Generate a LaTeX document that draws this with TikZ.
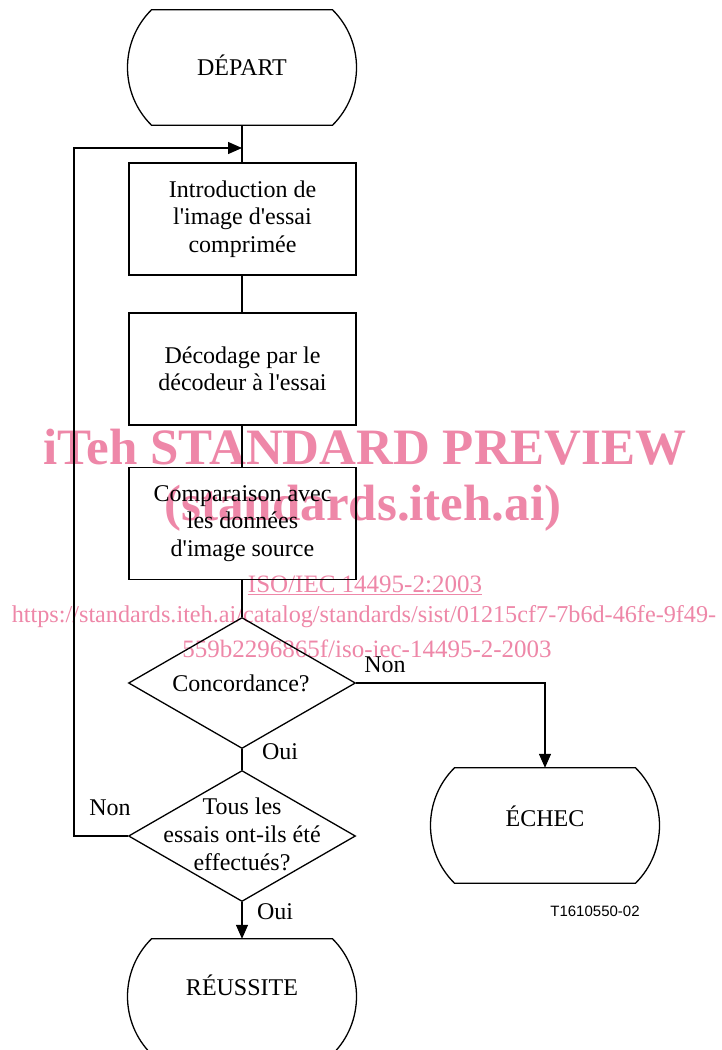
\documentclass[tikz,border=0pt]{standalone}
\usepackage{fontspec}
\setmainfont{Liberation Serif}
\newfontfamily\arialfont{Liberation Sans}
\usetikzlibrary{shapes.geometric,arrows.meta}
\definecolor{wm}{RGB}{238,135,168}
\newcommand\termshape[1]{%
  \draw[line] ([xshift=-90.5pt]#1.north) -- ([xshift=90.5pt]#1.north)
    .. controls ([xshift=122.5pt,yshift=-31.6pt]#1.north) and ([xshift=122.5pt,yshift=31.6pt]#1.south) .. ([xshift=90.5pt]#1.south)
    -- ([xshift=-90.5pt]#1.south)
    .. controls ([xshift=-122.5pt,yshift=31.6pt]#1.south) and ([xshift=-122.5pt,yshift=-31.6pt]#1.north) .. ([xshift=-90.5pt]#1.north)
    -- cycle;}
\begin{document}
\begin{tikzpicture}[x=1pt,y=-1pt,
  line/.style={line width=1.3pt, line join=miter},
  arr/.style={line width=1.3pt, -{Triangle[length=14pt,width=12pt]}},
  box/.style={draw, line width=1.3pt, minimum width=227pt, minimum height=112pt, inner sep=0pt, align=center, font=\fontsize{24}{27.5}\selectfont},
  term/.style={minimum width=229pt, minimum height=115pt, inner sep=0pt, text height=15.9pt, text depth=0pt, font=\fontsize{24}{27.5}\selectfont},
  dec/.style={diamond, draw, line width=1.3pt, minimum width=227pt, minimum height=131pt, inner sep=0pt},
  dtext/.style={align=center, inner sep=0pt, font=\fontsize{24}{28}\selectfont},
  lab/.style={inner sep=0pt, font=\fontsize{24}{27}\selectfont},
  code/.style={inner sep=0pt, font=\arialfont\fontsize{15}{18}\selectfont},
  wmbig/.style={inner sep=0pt, text=wm, font=\fontsize{51}{55}\selectfont\bfseries},
  wmsmall/.style={inner sep=0pt, text=wm, font=\fontsize{25}{30}\selectfont},
  wmurl/.style={inner sep=0pt, text=wm, font=\fontsize{24.2}{30}\selectfont}
]
\useasboundingbox (0,0) rectangle (721,1050);
\fill[white] (0,0) rectangle (721,1050);
\clip (0,0) rectangle (721,1050);

% watermark
\node[wmbig] (wm1) at (365,447) {iTeh STANDARD PREVIEW};
\node[wmbig] (wm2) at (363,508) {(standards.iteh.ai)};
\node[wmsmall] (wm3) at (365,585) {\underline{ISO/IEC 14495-2:2003}};
\node[wmurl] (wm4) at (364,617) {https://standards.iteh.ai/catalog/standards/sist/01215cf7-7b6d-46fe-9f49-};
\node[wmsmall] (wm5) at (367,649) {559b2296865f/iso-iec-14495-2-2003};

% terminals
\node[term] (start) at (242,67.5) {DÉPART};
\termshape{start}
\node[term] (fail) at (545,825.5) {\raisebox{7pt}{ÉCHEC}};
\termshape{fail}
\node[term] (success) at (242,996.5) {\raisebox{8.5pt}{RÉUSSITE}};
\termshape{success}

% process boxes
\node[box] (b1) at (242.5,219) {Introduction de\\l\textquotesingle image d\textquotesingle essai\\comprimée};
\node[box] (b2) at (242.5,369) {Décodage par le\\décodeur à l\textquotesingle essai};
\node[box] (b3) at (242.5,523.5) {Comparaison avec\\les données\\d\textquotesingle image source};

% decisions
\node[dec] (d1) at (242,683) {};
\node[dtext] (d1t) at (241,683) {Concordance?};
\node[dec] (d2) at (242,836) {};
\node[dtext] (d2t) at (242,834) {Tous les\\essais ont-ils été\\effectués?};

% labels
\node[lab] (non1) at (385,665) {Non};
\node[lab] (oui1) at (280,752) {Oui};
\node[lab] (non2) at (110,808) {Non};
\node[lab] (oui2) at (275,912) {Oui};
\node[code] (ref) at (595,911) {T1610550-02};

% connectors
\coordinate (loop) at (74,148);
\coordinate (join) at (242,148);
\draw[line] (start.south) -- (start.south |- b1.north);
\draw[line] (b1.south -| start.south) -- (start.south |- b2.north);
\draw[line] (b2.south -| start.south) -- (start.south |- b3.north);
\draw[line] (b3.south -| start.south) -- (d1.north);
\draw[line] (d1.south) -- (d2.north);
\draw[arr] (d1.east) -| (fail.north);
\draw[arr] (d2.west) -| (loop) -- (join);
\draw[arr] (d2.south) -- (success.north);
\end{tikzpicture}
\end{document}
